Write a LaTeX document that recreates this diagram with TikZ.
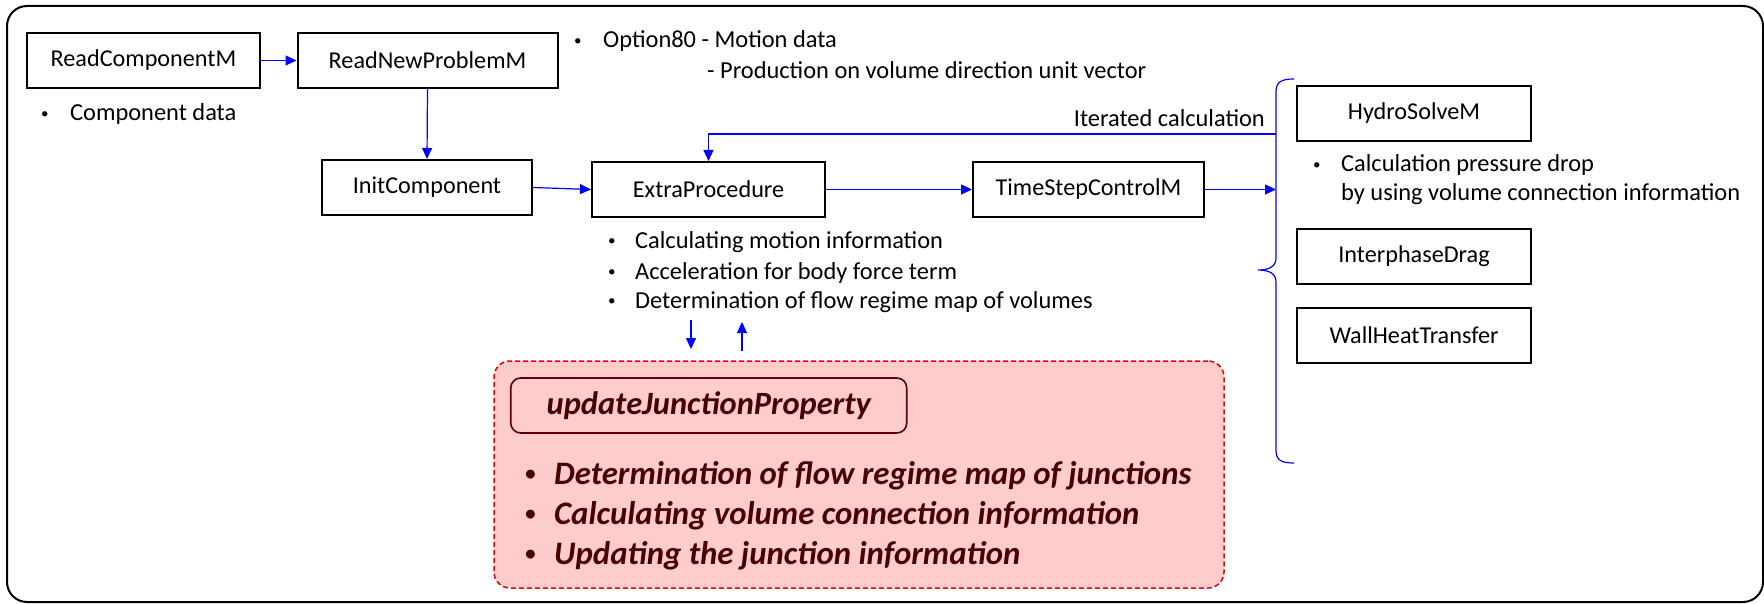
\documentclass[tikz,border=0pt]{standalone}
\usepackage{fontspec}
\setmainfont{Carlito}
\usetikzlibrary{arrows.meta}
\definecolor{pinkfill}{RGB}{255,204,204}
\definecolor{darkmaroon}{RGB}{72,0,0}
\definecolor{boxmaroon}{RGB}{96,0,0}
\definecolor{dashred}{RGB}{240,0,0}
\definecolor{arrowblue}{RGB}{0,0,255}
\newcommand\bl[2]{\makebox[#1][l]{\raisebox{2.6pt}{\fontsize{15}{15}\selectfont\textbullet}}#2}
\newcommand\rbl[2]{\makebox[#1][l]{\raisebox{3.2pt}{\fontsize{21}{21}\selectfont\textbullet}}#2}
\tikzset{
  box/.style={draw=black, line width=2pt, minimum height=55pt, inner sep=0pt,
    font=\fontsize{24.2}{29}\selectfont},
  conn/.style={draw=arrowblue, line width=1.2pt, -{Triangle[length=11pt,width=10pt]}},
  lbl/.style={anchor=base west, inner sep=0pt, font=\fontsize{24.4}{29}\selectfont},
  redlbl/.style={anchor=base west, inner sep=0pt,
    font=\fontsize{32.8}{38}\selectfont\bfseries\itshape, text=darkmaroon},
  redbox/.style={draw=dashred, line width=1.5pt, dash pattern=on 5pt off 3pt,
    fill=pinkfill, rounded corners=16pt, inner sep=0pt},
  ujbox/.style={draw=boxmaroon, line width=1.6pt, fill=pinkfill, rounded corners=10pt,
    inner sep=0pt, minimum width=396pt, minimum height=55pt,
    font=\fontsize{32.5}{38}\selectfont\bfseries\itshape, text=darkmaroon},
}
\begin{document}
\begin{tikzpicture}[x=1pt,y=-1pt]
\useasboundingbox (0,0) rectangle (1764,604);
% outer frame
\draw[line width=2pt, rounded corners=20pt] (7,6) rectangle (1763,602);

% main boxes
\node[box, minimum width=233pt] (rc)  at (143.5,60.5)  {ReadComponentM};
\node[box, minimum width=260pt] (rnp) at (427.5,60.5)  {ReadNewProblemM};
\node[box, minimum width=210pt] (ic)  at (427,187.5)   {InitComponent};
\node[box, minimum width=233pt] (ep)  at (708.5,189.5) {ExtraProcedure};
\node[box, minimum width=231pt] (tsc) at (1088.5,189.5){TimeStepControlM};
\node[box, minimum width=234pt] (hsm) at (1414,113.5)  {HydroSolveM};
\node[box, minimum width=234pt] (idg) at (1414,256.5)  {InterphaseDrag};
\node[box, minimum width=234pt] (wht) at (1414,335)    {WallHeatTransfer};

% red container
\node[redbox, minimum width=730pt, minimum height=227pt] (rb) at (859,474.5) {};
\node[ujbox] (ujp) at (708.75,405.5) {updateJunctionProperty};
\node[redlbl] (r1) at (525,484) {\rbl{29pt}{Determination of flow regime map of junctions}};
\node[redlbl] (r2) at (525,524) {\rbl{29pt}{Calculating volume connection information}};
\node[redlbl] (r3) at (525,564) {\rbl{29pt}{Updating the junction information}};

% notes
\node[lbl] (cd)  at (41,121)  {\bl{29pt}{Component data}};
\node[lbl] (op1) at (574,48)  {\bl{29pt}{Option80 - Motion data}};
\node[lbl] (op2) at (707,79)  {- Production on volume direction unit vector};
\node[lbl, anchor=base east] (itc) at (1265,127) {Iterated calculation};
\node[lbl] (e1) at (608,248) {\bl{27pt}{Calculating motion information}};
\node[lbl] (e2) at (608,279) {\bl{27pt}{Acceleration for body force term}};
\node[lbl] (e3) at (608,308) {\bl{27pt}{Determination of flow regime map of volumes}};
\node[lbl] (c1) at (1313,172) {\bl{28pt}{Calculation pressure drop}};
\node[lbl] (c2) at (1341,201) {by using volume connection information};

% brace
\draw[arrowblue, line width=1.2pt]
  (1294,79) .. controls (1281,79) and (1276,82) .. (1276,92)
  -- (1276,258) .. controls (1276,266) and (1270,270) .. (1258,270)
  .. controls (1270,270) and (1276,274) .. (1276,282)
  -- (1276,450) .. controls (1276,460) and (1281,463) .. (1294,463);
\coordinate (fb) at (1276,134);
\coordinate (tb) at (1276,189.5);

% connectors
\draw[conn] (rc.east) -- (rnp.west);
\draw[conn] (rnp.south) -- (ic.north);
\draw[conn] (ic.east) -- (ep.west);
\draw[conn] (ep.east) -- (tsc.west);
\draw[conn] (tsc.east) -- (tb);
\draw[conn] (fb) -| (ep.north);

\coordinate (d1a) at (691,320);
\coordinate (d1b) at (691,349);
\coordinate (u1a) at (742,351);
\coordinate (u1b) at (742,322);
\draw[conn] (d1a) -- (d1b);
\draw[conn] (u1a) -- (u1b);
\end{tikzpicture}
\end{document}
